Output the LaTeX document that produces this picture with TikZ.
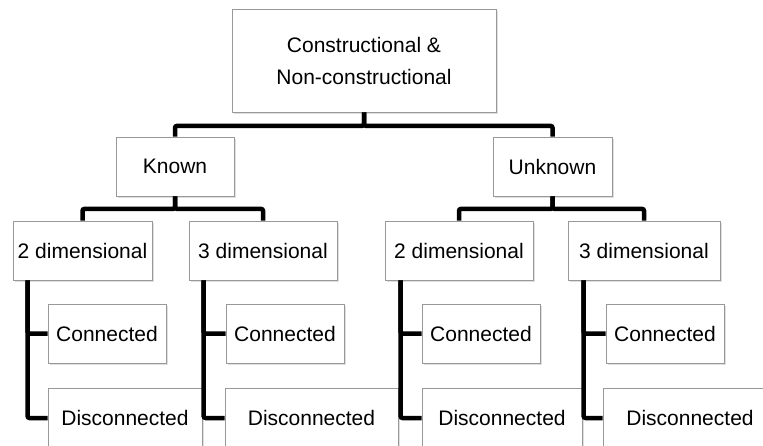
\documentclass[tikz,border=0pt]{standalone}
\usepackage{fontspec}
\setmainfont{Liberation Sans}
\usetikzlibrary{shadows}

\tikzset{
  box/.style={draw=black!40, line width=0.8pt, fill=white, minimum height=59pt,
    inner sep=0pt, align=center, font=\fontsize{21}{32}\selectfont,
    drop shadow={shadow xshift=1.5pt, shadow yshift=-2pt, opacity=0.25}},
  link/.style={line width=4.5pt, rounded corners=2pt}
}

\begin{document}
\begin{tikzpicture}[x=1pt,y=-1pt]
    \useasboundingbox (0,0) rectangle (763,446);
    \clip (0,0) rectangle (763,446);

    %Shape: top box
    \node[box, minimum width=264pt, minimum height=103pt] (root) at (364,60.5) {Constructional \&\\Non-constructional};

    %Shape: second level
    \node[box, minimum width=118pt] (known) at (175,166.5) {Known};
    \node[box, minimum width=119pt] (unknown) at (552.5,166.5) {Unknown};

    %Shape: third level
    \node[box, minimum width=139pt] (k2d) at (82.5,250.5) {2 dimensional};
    \node[box, minimum width=148pt] (k3d) at (263,250.5) {3 dimensional};
    \node[box, minimum width=148pt] (u2d) at (459,250.5) {2 dimensional};
    \node[box, minimum width=152pt] (u3d) at (644,250.5) {3 dimensional};

    %Shape: connected
    \node[box, minimum width=118pt] (k2c) at (107,333.5) {Connected};
    \node[box, minimum width=118pt] (k3c) at (285,333.5) {Connected};
    \node[box, minimum width=118pt] (u2c) at (481,333.5) {Connected};
    \node[box, minimum width=118pt] (u3c) at (665,333.5) {Connected};

    %Shape: disconnected
    \node[box, minimum width=154pt, minimum height=60pt] (k2n) at (125,418) {Disconnected};
    \node[box, minimum width=173pt, minimum height=60pt] (k3n) at (311.5,418) {Disconnected};
    \node[box, minimum width=160pt, minimum height=60pt] (u2n) at (502,418) {Disconnected};
    \node[box, minimum width=174pt, minimum height=60pt] (u3n) at (690,418) {Disconnected};

    % Connectors
    \draw[link] (root.south) -- ++(0,13.5) -| (known.north);
    \draw[link] (root.south) -- ++(0,13.5) -| (unknown.north);

    \draw[link] (known.south) -- ++(0,12.5) -| (k2d.north);
    \draw[link] (known.south) -- ++(0,12.5) -| (k3d.north);
    \draw[link] (unknown.south) -- ++(0,12.5) -| (u2d.north);
    \draw[link] (unknown.south) -- ++(0,12.5) -| (u3d.north);

    \draw[link] ([xshift=15pt]k2d.south west) |- (k2c.west);
    \draw[link] ([xshift=15pt]k2d.south west) |- (k2n.west);
    \draw[link] ([xshift=15pt]k3d.south west) |- (k3c.west);
    \draw[link] ([xshift=15pt]k3d.south west) |- (k3n.west);
    \draw[link] ([xshift=16pt]u2d.south west) |- (u2c.west);
    \draw[link] ([xshift=16pt]u2d.south west) |- (u2n.west);
    \draw[link] ([xshift=16pt]u3d.south west) |- (u3c.west);
    \draw[link] ([xshift=16pt]u3d.south west) |- (u3n.west);

\end{tikzpicture}
\end{document}
